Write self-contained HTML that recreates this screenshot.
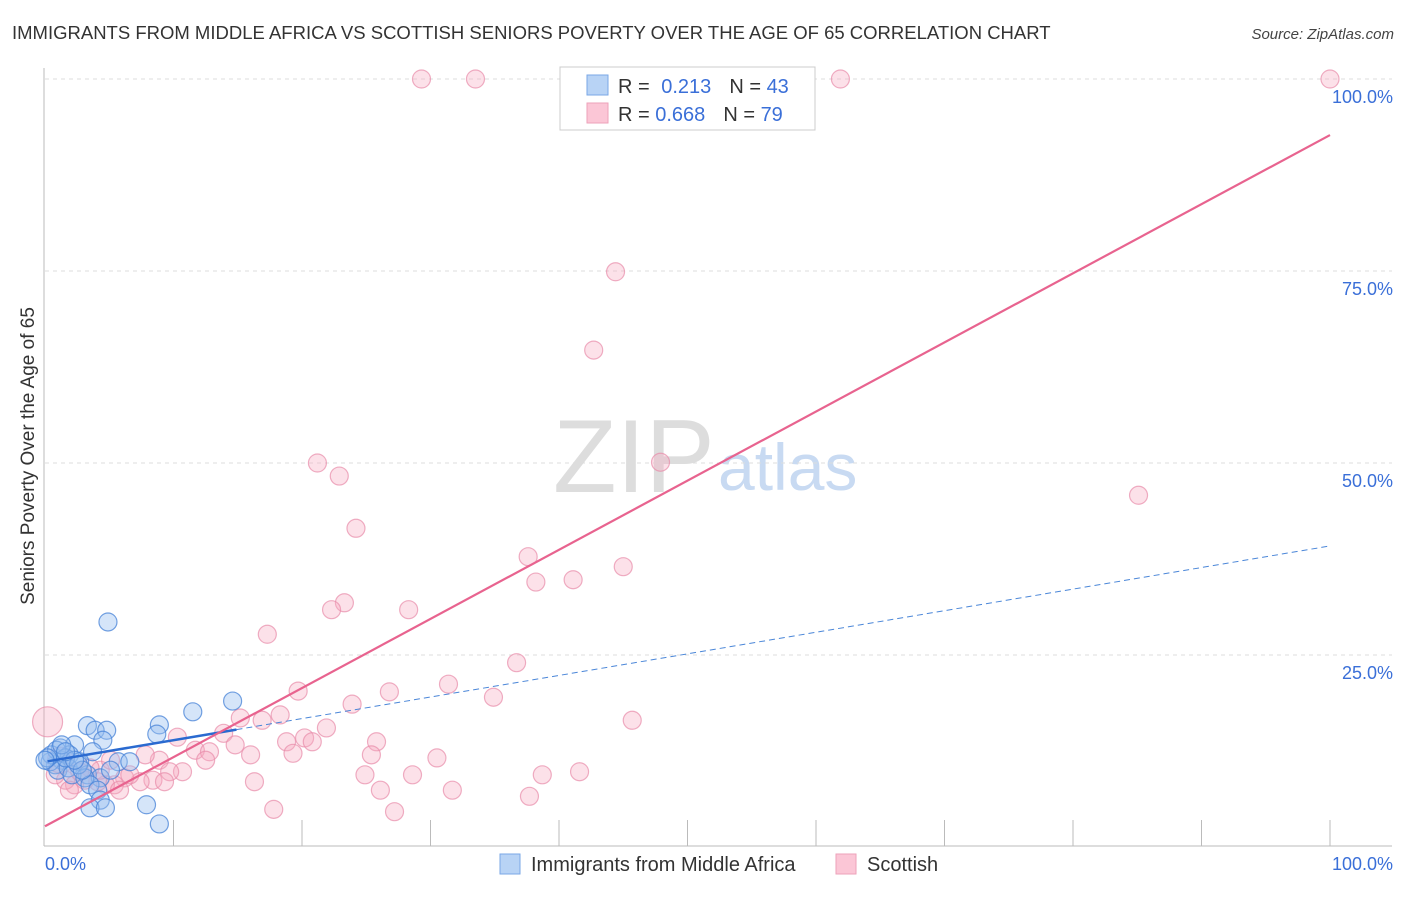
<!DOCTYPE html>
<html><head><meta charset="utf-8"><style>
body{margin:0;background:#fff;font-family:"Liberation Sans",sans-serif}
svg text{font-family:"Liberation Sans",sans-serif}
</style></head><body>
<svg id="c" width="1406" height="892">
<text x="12" y="39" font-size="18.5" fill="#333">IMMIGRANTS FROM MIDDLE AFRICA VS SCOTTISH SENIORS POVERTY OVER THE AGE OF 65 CORRELATION CHART</text>
<text x="1394" y="39" font-size="15" fill="#444" font-style="italic" text-anchor="end">Source: ZipAtlas.com</text>
<text transform="translate(34,456) rotate(-90)" font-size="19" fill="#333" text-anchor="middle">Seniors Poverty Over the Age of 65</text>
<text x="553" y="492" font-size="104" fill="#ddd" font-family="Liberation Serif">ZIP</text>
<text x="718" y="490" font-size="66" fill="#c8daf2">atlas</text>
<g id="grid"></g><g id="axes"></g><g id="pts"></g><g id="lines"></g>
<g>
<rect x="560" y="67" width="255" height="63" fill="#fff" stroke="#ccc"/>
<rect x="587" y="75" width="21" height="20" fill="#b8d3f5" stroke="#7aa7e6"/>
<rect x="587" y="103" width="21" height="20" fill="#fbc6d6" stroke="#eea2ba"/>
<text x="618" y="93" font-size="20" fill="#333">R = <tspan fill="#3a6fd8" dx="6">0.213</tspan><tspan dx="18" fill="#333">N = </tspan><tspan fill="#3a6fd8">43</tspan></text>
<text x="618" y="121" font-size="20" fill="#333">R = <tspan fill="#3a6fd8">0.668</tspan><tspan dx="18" fill="#333">N = </tspan><tspan fill="#3a6fd8">79</tspan></text>
</g>
<g>
<rect x="500" y="854" width="20" height="20" fill="#b8d3f5" stroke="#7aa7e6"/>
<text x="531" y="871" font-size="20" fill="#333">Immigrants from Middle Africa</text>
<rect x="836" y="854" width="20" height="20" fill="#fbc6d6" stroke="#eea2ba"/>
<text x="867" y="871" font-size="20" fill="#333">Scottish</text>
</g>
</svg>
<script>
const yTicks=[25,50,75,100];
const yTickLabels=["25.0%","50.0%","75.0%","100.0%"];
const xTickLabels=["0.0%","100.0%"];
const blueX=[4.9,3.3,3.9,4.8,4.5,8.9,8.7,11.5,14.6,1.2,2.3,3.7,1.9,2.7,1.3,0.8,0.4,3.3,4.3,1.0,1.8,2.1,3.1,5.7,6.6,3.5,4.1,4.3,3.5,4.7,7.9,8.9,0.5,0.9,1.6,2.6,2.9,0.2,1.3,5.1,0,2.3,1.6];
const blueY=[29.3,15.8,15.2,15.2,13.9,15.9,14.7,17.6,19.0,12.9,13.3,12.4,12.0,11.1,11.3,10.7,11.1,9.4,9.0,10.0,10.3,9.4,9.0,11.1,11.1,8.1,7.4,6.1,5.1,5.1,5.5,3.0,12.0,12.6,11.6,10.7,10.0,11.6,13.3,10.0,11.3,11.3,12.4];
const pinkX=[29.3,33.5,59.2,61.9,100,44.4,42.7,21.2,22.9,47.9,85.1,24.2,37.6,38.2,41.1,45.0,23.3,22.3,28.3,17.3,36.7,45.7,31.4,34.9,26.8,19.7,23.9,15.2,18.3,16.9,21.9,20.2,20.8,18.8,25.8,19.3,25.4,30.5,13.9,10.3,11.7,12.8,14.8,16.0,12.5,8.9,7.8,10.7,9.7,8.4,9.3,7.4,6.2,5.4,4.7,4.1,3.1,2.3,1.6,0.8,0.2,1.2,24.9,28.6,38.7,41.6,26.1,31.7,16.3,37.7,17.8,27.2,5.8,4.3,3.5,2.7,1.9,6.6,5.1];
const pinkY=[100,100,100,100,100,74.9,64.7,50.0,48.3,50.1,45.8,41.5,37.8,34.5,34.8,36.5,31.8,30.9,30.9,27.7,24.0,16.5,21.2,19.5,20.2,20.3,18.6,16.8,17.2,16.5,15.5,14.2,13.7,13.7,13.7,12.2,12.0,11.6,14.8,14.3,12.6,12.4,13.3,12.0,11.3,11.3,12.0,9.8,9.8,8.7,8.5,8.5,9.0,8.1,8.1,8.5,8.7,8.1,8.7,9.4,16.3,11.3,9.4,9.4,9.4,9.8,7.4,7.4,8.5,6.6,4.9,4.6,7.4,10.0,10.3,9.8,7.4,9.4,11.3];
const pinkR=pinkX.map((v,i)=>i===60?15:(i===61?13:9));
const blueTrend=[11.1,39.2];
const blueSolidEnd=14.9;
const pinkTrend=[2.7,92.7];
const X=v=>45+v*12.85, Y=v=>847-v*7.68;
const NS="http://www.w3.org/2000/svg";
function mk(p,t,a){const e=document.createElementNS(NS,t);for(const k in a)e.setAttribute(k,a[k]);p.appendChild(e);return e;}
const grid=document.getElementById('grid'),axes=document.getElementById('axes'),pts=document.getElementById('pts'),lines=document.getElementById('lines');
yTicks.forEach((t,i)=>{
 const l=mk(grid,'line',{x1:45,x2:1392,y1:Y(t),y2:Y(t),stroke:'#ddd','stroke-dasharray':'4,4'});
 
 
 const tx=mk(grid,'text',{x:1393,y:Y(t)+24,'font-size':18,fill:'#3a6fd8','text-anchor':'end'});
 tx.textContent=yTickLabels[i];
 
 
});
const ya=mk(axes,'line',{x1:44,x2:44,y1:68,y2:846,stroke:'#bbb'});


const xa=mk(axes,'line',{x1:44,x2:1392,y1:846,y2:846,stroke:'#bbb'});


for(let i=1;i<=10;i++){const t=mk(axes,'line',{x1:X(i*10),x2:X(i*10),y1:820,y2:846,stroke:'#bbb'});
 
 }
[[0,'start',45],[100,'end',1393]].forEach((d,i)=>{const t=mk(axes,'text',{x:d[2],y:870,'font-size':18,fill:'#3a6fd8','text-anchor':d[1]});t.textContent=xTickLabels[i];
 
 });
pinkX.forEach((v,i)=>{const c=mk(pts,'circle',{cx:X(v),cy:Y(pinkY[i]),r:pinkR[i],fill:'rgba(246,168,192,0.35)',stroke:'rgba(232,140,170,0.7)','stroke-width':1.2});
 
 });
blueX.forEach((v,i)=>{const c=mk(pts,'circle',{cx:X(v),cy:Y(blueY[i]),r:9,fill:'rgba(150,190,240,0.4)',stroke:'rgba(70,130,215,0.75)','stroke-width':1.2});
 
 });
const by=x=>blueTrend[0]+(blueTrend[1]-blueTrend[0])*x/100;
const bd=mk(lines,'line',{x1:X(blueSolidEnd),y1:Y(by(blueSolidEnd)),x2:X(100),y2:Y(by(100)),stroke:'#4a86d8','stroke-width':1,'stroke-dasharray':'6,4'});


const bs=mk(lines,'line',{x1:X(0.2),y1:Y(by(0.2)),x2:X(blueSolidEnd),y2:Y(by(blueSolidEnd)),stroke:'#2a6ad0','stroke-width':2.5});


const pl=mk(lines,'line',{x1:X(0),y1:Y(pinkTrend[0]),x2:X(100),y2:Y(pinkTrend[1]),stroke:'#e8638f','stroke-width':2.2});


</script>
</body></html>
